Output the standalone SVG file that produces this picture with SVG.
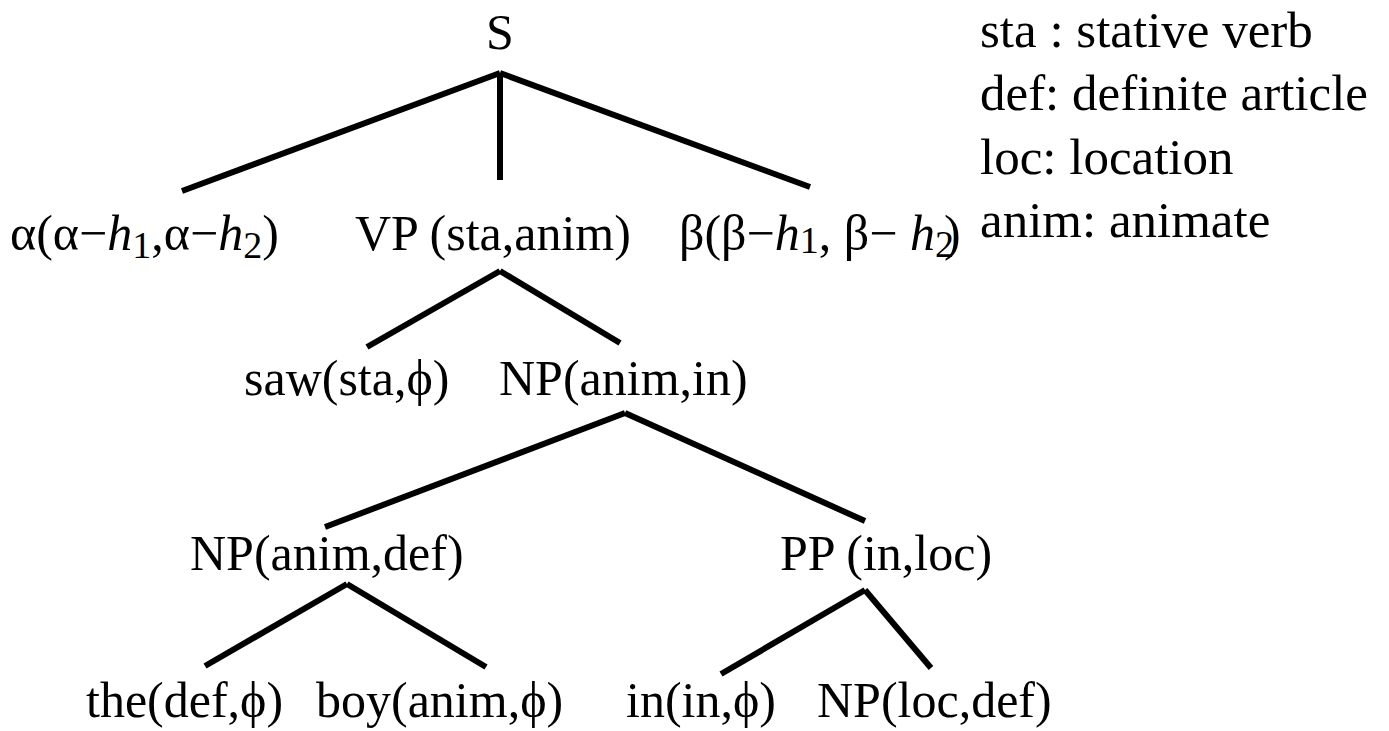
<svg xmlns="http://www.w3.org/2000/svg" width="1389" height="731" viewBox="0 0 1389 731">
  <style>
    .lbl { font-size: 50px; fill: #000; }
    .it { font-style: italic; }
    .sub { font-size: 38px; }
    .edge { stroke: #000; stroke-width: 6; fill: none; }
  </style>
  <rect width="1389" height="731" fill="#fff"/>

  <!-- tree branches -->
  <g id="connectors">
    <line class="edge" x1="500" y1="73" x2="182" y2="191"/>
    <line class="edge" x1="500" y1="73" x2="500" y2="180"/>
    <line class="edge" x1="500" y1="73" x2="810" y2="187"/>
    <line class="edge" x1="500" y1="271" x2="367" y2="347"/>
    <line class="edge" x1="500" y1="271" x2="620" y2="343"/>
    <line class="edge" x1="625" y1="413" x2="325" y2="527"/>
    <line class="edge" x1="625" y1="413" x2="865" y2="521"/>
    <line class="edge" x1="347" y1="584" x2="205" y2="666"/>
    <line class="edge" x1="347" y1="584" x2="486" y2="667"/>
    <line class="edge" x1="865" y1="590" x2="721" y2="674"/>
    <line class="edge" x1="865" y1="590" x2="931" y2="668"/>
  </g>

  <!-- node labels -->
  <g class="lbl" font-family="Liberation Serif">
    <g id="node-S"><text x="500" y="49" text-anchor="middle">S</text></g>
    <g id="node-alpha"><text x="10" y="250">α(α−<tspan class="it">h</tspan><tspan class="sub" dy="8">1</tspan><tspan dy="-8">,α−</tspan><tspan class="it">h</tspan><tspan class="sub" dy="8">2</tspan><tspan dy="-8">)</tspan></text></g>
    <g id="node-VP"><text x="355" y="250">VP (sta,anim)</text></g>
    <g id="node-beta"><text x="679" y="250">β(β−<tspan class="it">h</tspan><tspan class="sub" dy="3">1</tspan><tspan dy="-3">, β− </tspan><tspan class="it">h</tspan><tspan class="sub" dy="7">2</tspan><tspan dy="-7" dx="-10">)</tspan></text></g>
    <g id="node-saw"><text x="244" y="395">saw(sta,ϕ)</text></g>
    <g id="node-NP-anim-in"><text x="499" y="395">NP(anim,in)</text></g>
    <g id="node-NP-anim-def"><text x="190" y="570">NP(anim,def)</text></g>
    <g id="node-PP"><text x="780" y="570">PP (in,loc)</text></g>
    <g id="node-the"><text x="86" y="717">the(def,ϕ)</text></g>
    <g id="node-boy"><text x="316" y="717">boy(anim,ϕ)</text></g>
    <g id="node-in"><text x="626" y="717">in(in,ϕ)</text></g>
    <g id="node-NP-loc-def"><text x="817" y="717">NP(loc,def)</text></g>

    <!-- abbreviation key -->
    <g id="legend" font-size="51">
      <text x="980" y="47">sta : stative verb</text>
      <text x="980" y="110">def: definite article</text>
      <text x="980" y="174">loc: location</text>
      <text x="980" y="237">anim: animate</text>
    </g>
  </g>
</svg>
